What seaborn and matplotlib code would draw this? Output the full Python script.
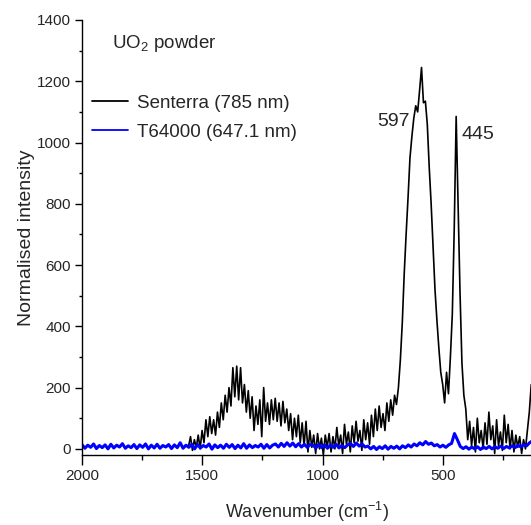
import numpy as np
import pandas as pd
import matplotlib
matplotlib.use("Agg")
import matplotlib.pyplot as plt
from matplotlib.ticker import MultipleLocator
import seaborn as sns

# --- DATA ---
# Senterra (785 nm): sampled every 8 cm-1 from 1557 down to 133
senterra_start, senterra_step = 1557, 8
senterra_vals = [
    10, 40, -5, 30, 5, 45, 0, 60, 20, 95,
    40, 105, 50, 95, 45, 120, 70, 150, 95, 175,
    120, 200, 140, 265, 170, 270, 160, 265, 150, 210,
    120, 190, 100, 170, 60, 140, 80, 160, 40, 200,
    90, 150, 80, 160, 95, 165, 90, 150, 75, 155,
    85, 130, 60, 115, 30, 100, 40, 110, 20, 85,
    10, 90, -10, 60, 5, 45, -15, 50, 0, 35,
    -20, 45, 5, 50, -10, 40, 0, 70, 10, 45,
    -15, 80, 15, 55, -10, 75, 20, 90, 25, 60,
    -5, 95, 30, 85, 15, 110, 40, 130, 60, 140,
    70, 115, 60, 150, 90, 160, 110, 175, 145, 200,
    290, 410, 570, 700, 820, 950, 1020, 1080, 1120, 1100,
    1170, 1245, 1130, 1135, 1060, 920, 800, 660, 520, 420,
    330, 250, 210, 150, 250, 180, 300, 440, 720, 1085,
    800, 510, 280, 175, 130, 30, 90, 10, 70, -10,
    100, 20, 60, 0, 85, 15, 120, 30, 75, -15,
    95, 10, 55, -5, 110, 20, 80, 0, 60, -10,
    45, 5, 40, -15, 30, 0, 60, 120, 210,
]

# T64000 (647.1 nm): sampled every 12 cm-1 from 2000 down to 128
t64000_start, t64000_step = 2000, 12
t64000_vals = [
    14, 2, 12, 5, 16, 1, 11, 4, 13, 0,
    15, 3, 12, 6, 17, 2, 10, 4, 14, 1,
    13, 5, 16, 0, 12, 3, 15, 2, 11, 6,
    14, 1, 13, 4, 20, 2, 12, 5, 15, 0,
    14, 3, 11, 6, 16, -1, 13, 4, 12, 2,
    15, 5, 14, 1, 12, 3, 17, 2, 13, 4,
    11, 6, 15, 2, 14, 3, 12,
    16, 6, 18, 8, 20, 9, 19, 7, 17, 6, 15, 5, 14,
    12, 3, 14, 4, 13, 2, 12, 5, 15, 3, 11, 4, 13,
    17, 8, 19, 9, 16, 6,
    9, 0, 8, -2, 7, 1, 10, -1, 8, 2, 9, 0,
    10, 4, 13, 6, 16, 10, 20, 13, 24, 15, 19, 10,
    14, 6, 12, 5, 13, 18, 50, 30,
    8, 1, 7, -1, 6, 0, 7, -2, 6, 1, 8, 0, 7, 2, 9, 1, 8, 3, 10, 4,
    12, 6, 14, 10, 20, 26,
]

series_labels = ["Senterra (785 nm)", "T64000 (647.1 nm)"]
series_colors = ["black", "#0000ff"]
peak_labels = ["597", "445"]

senterra_x = senterra_start - senterra_step * np.arange(len(senterra_vals))
t64000_x = t64000_start - t64000_step * np.arange(len(t64000_vals))

df = pd.concat([
    pd.DataFrame({"wn": senterra_x, "I": senterra_vals, "src": series_labels[0]}),
    pd.DataFrame({"wn": t64000_x, "I": t64000_vals, "src": series_labels[1]}),
])

# --- STYLE ---
sns.set_theme(style="ticks")
plt.rcParams["font.family"] = ["Liberation Sans", "DejaVu Sans"]
plt.rcParams["mathtext.default"] = "regular"

fig = plt.figure(figsize=(5.31, 5.25), dpi=100)
ax = fig.add_axes([82 / 531, 70 / 525, 449 / 531, 435 / 525])

for lab, col, lw in zip(series_labels, series_colors, [1.2, 2.2]):
    d = df[df["src"] == lab]
    sns.lineplot(data=d, x="wn", y="I", color=col, lw=lw, label=lab,
                 sort=False, estimator=None, ax=ax)

ax.set_xlim(2000, 134)
ax.set_ylim(-20, 1400)
ax.xaxis.set_major_locator(MultipleLocator(500))
ax.xaxis.set_minor_locator(MultipleLocator(250))
ax.yaxis.set_major_locator(MultipleLocator(200))
ax.yaxis.set_minor_locator(MultipleLocator(100))
ax.tick_params(which="major", length=5, width=1, labelsize=11, pad=3, color="black")
ax.tick_params(which="minor", length=2.5, width=1, color="black")
ax.tick_params(axis="x", which="major", length=7)
ax.tick_params(axis="x", which="minor", length=3.5)
for s in ["top", "right"]:
    ax.spines[s].set_visible(False)
for s in ["left", "bottom"]:
    ax.spines[s].set_color("black")
    ax.spines[s].set_linewidth(1)

ax.set_xlabel("Wavenumber (cm$^{-1}$)", fontsize=13, labelpad=12)
ax.set_ylabel("Normalised intensity", fontsize=14, labelpad=1)

ax.text(0.067, 0.936, "UO$_2$ powder", transform=ax.transAxes,
        fontsize=13.5, va="baseline", ha="left")
ax.text(637, 1070, peak_labels[0], fontsize=14, ha="right", va="center")
ax.text(421, 1027, peak_labels[1], fontsize=14, ha="left", va="center")

leg = ax.legend(loc="upper left", bbox_to_anchor=(0.022, 0.829), frameon=False,
                fontsize=13.5, handlelength=1.9, handletextpad=0.5,
                labelspacing=0.65, borderpad=0, borderaxespad=0)
for h in leg.get_lines():
    h.set_linewidth(1.3)

fig.savefig("out.png", dpi=100)
